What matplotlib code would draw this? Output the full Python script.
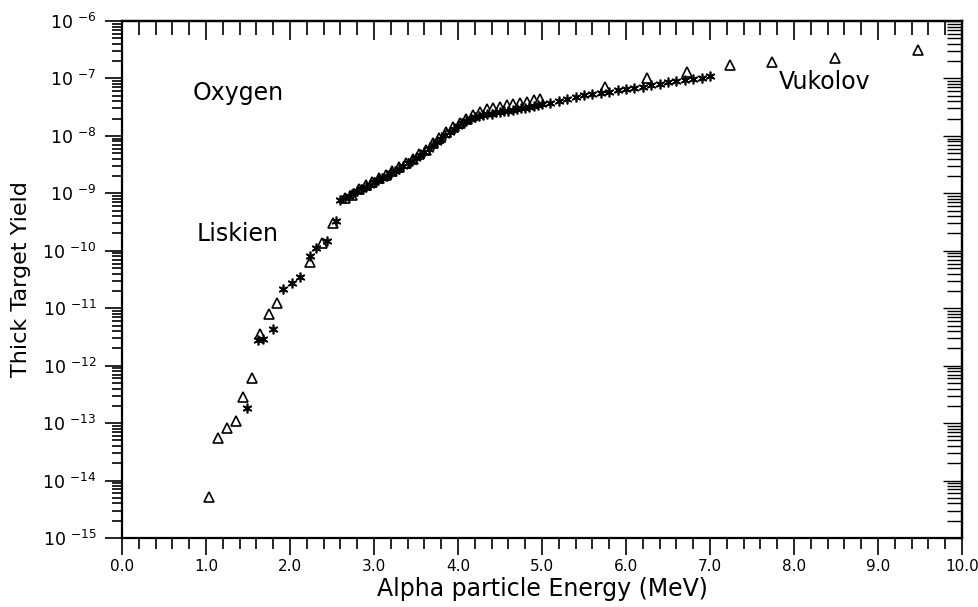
import matplotlib
matplotlib.use('Agg')
import matplotlib.pyplot as plt
from matplotlib.ticker import MultipleLocator, LogLocator, FixedLocator, NullFormatter

# Liskien data (asterisks)
liskien_e = [1.49, 1.62, 1.68, 1.80, 1.92, 2.02, 2.12, 2.24, 2.31, 2.44, 2.55,
             2.60, 2.65, 2.70, 2.75, 2.80, 2.85, 2.90, 2.95, 3.00, 3.05,
             3.10, 3.15, 3.20, 3.25, 3.30, 3.35, 3.40, 3.45, 3.50, 3.55,
             3.60, 3.65, 3.70, 3.75, 3.80, 3.85, 3.90, 3.95, 4.00, 4.05,
             4.10, 4.15, 4.20, 4.25, 4.30, 4.35, 4.40, 4.45, 4.50, 4.55,
             4.60, 4.65, 4.70, 4.75, 4.80, 4.85, 4.90, 4.95, 5.00,
             5.10, 5.20, 5.30, 5.40, 5.50, 5.60, 5.70, 5.80, 5.90, 6.00,
             6.10, 6.20, 6.30, 6.40, 6.50, 6.60, 6.70, 6.80, 6.90, 7.00]
liskien_y = [1.8e-13, 2.8e-12, 2.9e-12, 4.3e-12, 2.2e-11, 2.7e-11, 3.5e-11, 8.1e-11, 1.1e-10, 1.5e-10, 3.3e-10,
             7.6e-10, 8.3e-10, 9.1e-10, 1.0e-9, 1.10e-9, 1.17e-9, 1.29e-9, 1.41e-9, 1.55e-9, 1.70e-9,
             1.86e-9, 2.04e-9, 2.24e-9, 2.45e-9, 2.69e-9, 3.02e-9, 3.31e-9, 3.72e-9, 4.07e-9, 4.68e-9,
             5.25e-9, 6.03e-9, 6.92e-9, 7.94e-9, 8.91e-9, 1.02e-8, 1.17e-8, 1.32e-8, 1.48e-8, 1.66e-8,
             1.82e-8, 1.95e-8, 2.09e-8, 2.19e-8, 2.29e-8, 2.40e-8, 2.45e-8, 2.57e-8, 2.63e-8, 2.69e-8,
             2.75e-8, 2.82e-8, 2.88e-8, 3.02e-8, 3.09e-8, 3.24e-8, 3.31e-8, 3.47e-8, 3.55e-8,
             3.80e-8, 4.07e-8, 4.37e-8, 4.79e-8, 5.13e-8, 5.37e-8, 5.62e-8, 5.89e-8, 6.17e-8, 6.61e-8,
             6.92e-8, 7.24e-8, 7.59e-8, 8.13e-8, 8.51e-8, 8.91e-8, 9.33e-8, 9.77e-8, 1.02e-7, 1.10e-7]

# Vukolov data (open triangles)
vukolov_e = [1.04, 1.14, 1.25, 1.36, 1.44, 1.55, 1.64, 1.75, 1.85, 2.24, 2.38, 2.51,
             2.66, 2.74, 2.82, 2.90, 2.98, 3.06, 3.14, 3.22, 3.30, 3.38, 3.46, 3.54,
             3.62, 3.70, 3.78, 3.86, 3.94, 4.02, 4.10, 4.18, 4.26, 4.34, 4.42, 4.50,
             4.58, 4.66, 4.74, 4.82, 4.90, 4.98,
             5.75, 6.25, 6.73, 7.24, 7.74, 8.49, 9.48]
vukolov_y = [5.1e-15, 5.6e-14, 8.1e-14, 1.07e-13, 2.9e-13, 6.0e-13, 3.5e-12, 7.9e-12, 1.25e-11, 6.3e-11, 1.35e-10, 3.0e-10,
             8.3e-10, 9.5e-10, 1.17e-9, 1.38e-9, 1.58e-9, 1.82e-9, 2.09e-9, 2.45e-9, 2.88e-9, 3.39e-9, 3.98e-9, 4.79e-9,
             5.75e-9, 7.59e-9, 9.33e-9, 1.17e-8, 1.45e-8, 1.70e-8, 2.0e-8, 2.34e-8, 2.63e-8, 2.88e-8, 3.09e-8, 3.24e-8,
             3.39e-8, 3.55e-8, 3.72e-8, 3.89e-8, 4.17e-8, 4.37e-8,
             7.08e-8, 1.02e-7, 1.29e-7, 1.70e-7, 1.95e-7, 2.29e-7, 3.09e-7]

y_exponents = list(range(-15, -5))
x_ticks = [0, 1, 2, 3, 4, 5, 6, 7, 8, 9, 10]

fig = plt.figure(figsize=(9.79, 6.07), dpi=100)
ax = fig.add_axes([0.1246, 0.1137, 0.8580, 0.8517])

ax.plot(vukolov_e, vukolov_y, linestyle='none', marker='^', ms=7,
        mfc='white', mec='black', mew=1.2, zorder=3)
ax.plot(liskien_e, liskien_y, linestyle='none', marker=(6, 2, 0), ms=7,
        mec='black', mew=1.2, zorder=4)

ax.set_yscale('log')
ax.set_xlim(0, 10)
ax.set_ylim(1e-15, 1e-6)

ax.xaxis.set_major_locator(FixedLocator(x_ticks))
ax.xaxis.set_minor_locator(MultipleLocator(0.2))
ax.set_xticklabels(['%.1f' % v for v in x_ticks])
ax.yaxis.set_major_locator(FixedLocator([10.0 ** e for e in y_exponents]))
ax.yaxis.set_minor_locator(LogLocator(base=10, subs=range(2, 10), numticks=20))
ax.yaxis.set_minor_formatter(NullFormatter())
ax.set_yticklabels(['10 $^{%d}$' % e for e in y_exponents])

ax.tick_params(axis='both', which='both', direction='out', top=False, right=False,
               width=1.2, color='black')
ax.tick_params(axis='x', which='major', length=12, labelsize=11, pad=3)
ax.tick_params(axis='x', which='minor', length=8)
ax.tick_params(axis='y', which='major', length=12, labelsize=12.5, pad=6)
ax.tick_params(axis='y', which='minor', length=7)

# inward ticks on top and right
axt = ax.secondary_xaxis('top')
axt.xaxis.set_major_locator(FixedLocator(x_ticks))
axt.xaxis.set_minor_locator(MultipleLocator(0.2))
axt.tick_params(axis='x', which='both', direction='in', labeltop=False, width=1.2)
axt.tick_params(axis='x', which='major', length=14)
axt.tick_params(axis='x', which='minor', length=10)

axr = ax.secondary_yaxis('right')
axr.yaxis.set_major_locator(FixedLocator([10.0 ** e for e in y_exponents]))
axr.yaxis.set_minor_locator(LogLocator(base=10, subs=range(2, 10), numticks=20))
axr.yaxis.set_minor_formatter(NullFormatter())
axr.tick_params(axis='y', which='both', direction='in', labelright=False, width=1.0)
axr.tick_params(axis='y', which='major', length=14)
axr.tick_params(axis='y', which='minor', length=11)

for sp in ax.spines.values():
    sp.set_linewidth(1.6)
axt.spines['top'].set_linewidth(1.6)
axr.spines['right'].set_linewidth(1.6)

ax.set_xlabel('Alpha particle Energy (MeV)', fontsize=17, labelpad=2)
ax.set_ylabel('Thick Target Yield', fontsize=16, labelpad=8)

ax.text(1.38, 10 ** -7.25, 'Oxygen', fontsize=17, ha='center', va='center')
ax.text(1.38, 10 ** -9.71, 'Liskien', fontsize=17, ha='center', va='center')
ax.text(8.37, 10 ** -7.06, 'Vukolov', fontsize=17, ha='center', va='center')

fig.savefig('out.png', dpi=100)
